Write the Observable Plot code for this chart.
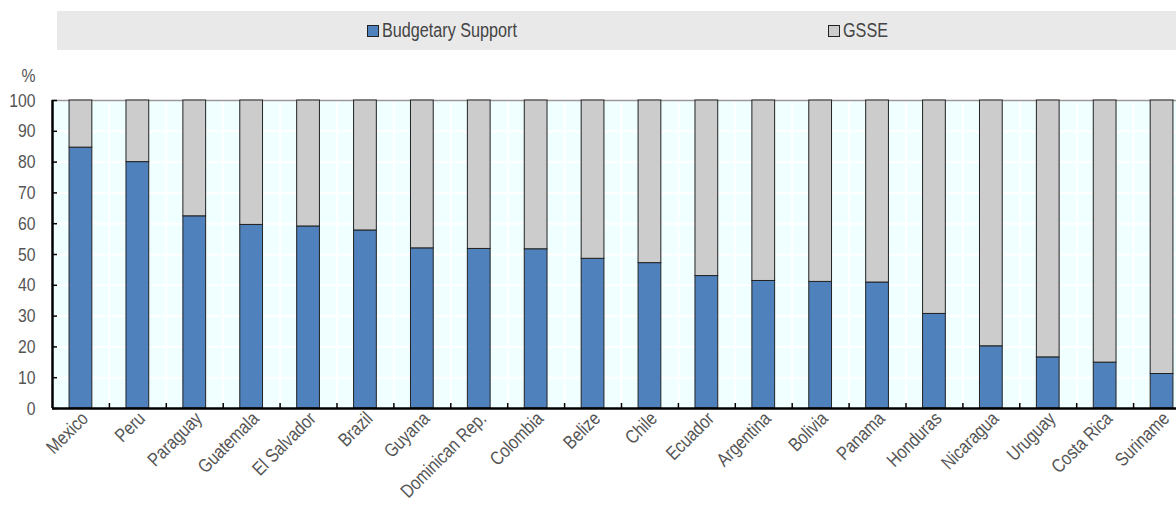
<!DOCTYPE html>
<html><head><meta charset="utf-8">
<script src="https://cdn.jsdelivr.net/npm/d3@7"></script>
<script src="https://cdn.jsdelivr.net/npm/@observablehq/plot@0.6"></script>
<style>
html,body{margin:0;padding:0;overflow:hidden;background:#fff;width:1176px;height:505px;position:relative}
#legend{position:absolute;left:57px;top:11px;width:1130px;height:39px;background:#e9e9e9}
.item{position:absolute;top:0;height:39px;display:flex;align-items:center;font-family:"Liberation Sans",Arial,sans-serif;font-size:19.5px;color:#444;white-space:nowrap}
.item span{display:inline-block;transform:scaleX(0.83);transform-origin:left center}
.sw{width:10px;height:10px;border:1px solid #222;margin-right:3px;flex:none}
#chart{position:absolute;left:0;top:55px;width:1200px}
#chart svg{max-width:none !important}
</style></head><body>
<div id="legend"></div><div id="chart"></div>
<script>
const countries = ["Mexico","Peru","Paraguay","Guatemala","El Salvador","Brazil","Guyana","Dominican Rep.","Colombia","Belize","Chile","Ecuador","Argentina","Bolivia","Panama","Honduras","Nicaragua","Uruguay","Costa Rica","Suriname"];
const budgetary = [84.7,80.0,62.4,59.6,59.1,57.8,52.0,51.8,51.7,48.6,47.2,43.0,41.4,41.1,40.9,30.7,20.2,16.6,14.9,11.2];
const gsse = [15.3,20.0,37.6,40.4,40.9,42.2,48.0,48.2,48.3,51.4,52.8,57.0,58.6,58.9,59.1,69.3,79.8,83.4,85.1,88.8];
const seriesNames = ["Budgetary Support","GSSE"];
const seriesColors = ["#4f81bd","#cccccc"];
const yTicks = [0,10,20,30,40,50,60,70,80,90,100];
const legendLeft = [310,771];

const FONT = '"Liberation Sans",Arial,sans-serif';

const leg = document.getElementById("legend");
seriesNames.forEach((s,i)=>{
  const it = document.createElement("div");
  it.className="item"; it.style.left = legendLeft[i]+"px";
  const sw = document.createElement("div"); sw.className="sw"; sw.style.background=seriesColors[i];
  const tx = document.createElement("span"); tx.textContent = s;
  it.appendChild(sw); it.appendChild(tx);
  leg.appendChild(it);
});

const rows = [];
countries.forEach((c,i)=>{
  rows.push({country:c, series:seriesNames[0], value:budgetary[i]});
  rows.push({country:c, series:seriesNames[1], value:gsse[i]});
});

const W = 1192, ML = 52, MR = 2;
const step = (W-ML-MR)/countries.length;

const plot = Plot.plot({
  width: W, height: 450, marginTop: 45, marginLeft: ML, marginRight: MR, marginBottom: 97,
  style: {fontFamily: FONT, fontSize: "19px", color: "#555", background: "transparent", overflow: "visible"},
  x: {domain: countries, paddingInner: 0.6, paddingOuter: 0.3, round: false, label: null},
  y: {domain: [0,100], label: null},
  color: {domain: seriesNames, range: seriesColors},
  marks: [
    Plot.frame({fill: "#f0ffff", stroke: null}),
    Plot.gridY(yTicks, {stroke: "#ffffff", strokeOpacity: 1, strokeWidth: 2}),
    Plot.ruleX(countries, {x: d=>d, dx: step/2, stroke: "#ffffff", strokeWidth: 2}),
    Plot.ruleY([100], {stroke: "#999", strokeWidth: 1.5}),
    Plot.barY(rows, {x: "country", y: "value", fill: "series", stroke: "#222", strokeWidth: 1}),
    Plot.axisX({tickSize: -5, text: null, dx: step/2, stroke: "#000", strokeWidth: 1.5}),
    Plot.axisX({tickSize: 0, tickPadding: 7, dx: 4, tickRotate: -45, fill: "#555", fontSize: 19, ariaLabel: "xlabels"}),
    Plot.axisY(yTicks, {tickSize: -5, text: null, stroke: "#000", strokeWidth: 1.5}),
    Plot.axisY(yTicks, {tickSize: 0, tickPadding: 17, fill: "#555", fontSize: 19, ariaLabel: "ylabels"}),
    Plot.ruleY([0], {stroke: "#000", strokeWidth: 2.5}),
    Plot.ruleX([countries[0]], {x: d=>d, dx: -step/2, stroke: "#000", strokeWidth: 2.5}),
    Plot.text(["%"], {frameAnchor: "top-left", textAnchor: "end", dx: -17, dy: -32, fill: "#555", fontSize: 19, ariaLabel: "unit"})
  ]
});
// condense text horizontally (narrow typeface look)
plot.querySelectorAll("text").forEach(t => {
  let x = parseFloat(t.getAttribute("x"));
  if (!isFinite(x)) x = 0;
  const tr = t.getAttribute("transform") || "";
  t.setAttribute("transform", `${tr} translate(${x},0) scale(0.83,1) translate(${-x},0)`);
});
document.getElementById("chart").appendChild(plot);
</script>
</body></html>
